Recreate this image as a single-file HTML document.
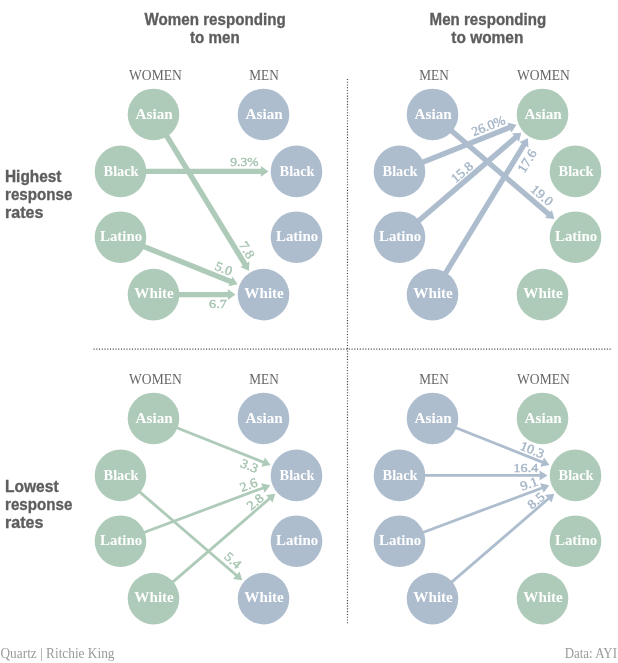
<!DOCTYPE html>
<html><head><meta charset="utf-8"><style>
html,body{margin:0;padding:0;background:#fff;width:618px;height:663px;overflow:hidden}
svg{display:block;will-change:transform}
.tt{font-family:"Liberation Sans",sans-serif;font-weight:bold;font-size:15px;fill:#5d5d5d;stroke:#5d5d5d;stroke-width:0.3px}
.rl{font-family:"Liberation Sans",sans-serif;font-weight:bold;font-size:15px;fill:#5d5d5d;stroke:#5d5d5d;stroke-width:0.3px}
.ch{font-family:"Liberation Serif",serif;font-size:15px;fill:#666666}
.cl{font-family:"Liberation Serif",serif;font-weight:bold;font-size:15px;fill:#fff}
.vl{font-family:"Liberation Serif",serif;font-weight:normal;font-size:13px;stroke-width:0.4px;paint-order:stroke}
.ft{font-family:"Liberation Serif",serif;font-size:14px;fill:#9a9a9a}
</style></head><body>
<svg width="618" height="663" viewBox="0 0 618 663">
<defs><filter id="bl" x="-5%" y="-5%" width="110%" height="110%"><feGaussianBlur stdDeviation="0.35"/></filter></defs>
<g>
<rect x="0" y="0" width="618" height="663" fill="#fff"/>
<g filter="url(#bl)">
<line x1="93.5" y1="349.2" x2="612" y2="349.2" stroke="#4a4a4a" stroke-width="1.2" stroke-dasharray="1.1 1.645"/>
<line x1="347.5" y1="78.9" x2="347.5" y2="624.5" stroke="#4a4a4a" stroke-width="1.2" stroke-dasharray="1.1 1.672"/>
</g>
<text transform="translate(215.1,24.6) scale(1,1.08)" text-anchor="middle" class="tt" textLength="141.1" lengthAdjust="spacingAndGlyphs">Women responding</text>
<text transform="translate(214.9,42.6) scale(1,1.08)" text-anchor="middle" class="tt" textLength="49.7" lengthAdjust="spacingAndGlyphs">to men</text>
<text transform="translate(487.9,24.6) scale(1,1.08)" text-anchor="middle" class="tt" textLength="116.6" lengthAdjust="spacingAndGlyphs">Men responding</text>
<text transform="translate(487.3,42.6) scale(1,1.08)" text-anchor="middle" class="tt" textLength="72.1" lengthAdjust="spacingAndGlyphs">to women</text>
<text transform="translate(5,182.0) scale(1,1.08)" text-anchor="start" class="rl" textLength="56.5" lengthAdjust="spacingAndGlyphs">Highest</text>
<text transform="translate(5,199.6) scale(1,1.08)" text-anchor="start" class="rl" textLength="67.3" lengthAdjust="spacingAndGlyphs">response</text>
<text transform="translate(5,217.8) scale(1,1.08)" text-anchor="start" class="rl" textLength="38.4" lengthAdjust="spacingAndGlyphs">rates</text>
<text transform="translate(5,492.2) scale(1,1.08)" text-anchor="start" class="rl" textLength="53.6" lengthAdjust="spacingAndGlyphs">Lowest</text>
<text transform="translate(5,509.8) scale(1,1.08)" text-anchor="start" class="rl" textLength="67.3" lengthAdjust="spacingAndGlyphs">response</text>
<text transform="translate(5,527.6) scale(1,1.08)" text-anchor="start" class="rl" textLength="38.4" lengthAdjust="spacingAndGlyphs">rates</text>
<text x="155.40" y="80.0" text-anchor="middle" class="ch" textLength="52.7" lengthAdjust="spacingAndGlyphs">WOMEN</text>
<text x="264.00" y="80.0" text-anchor="middle" class="ch" textLength="29.4" lengthAdjust="spacingAndGlyphs">MEN</text>
<text x="434.00" y="80.0" text-anchor="middle" class="ch" textLength="29.4" lengthAdjust="spacingAndGlyphs">MEN</text>
<text x="543.40" y="80.0" text-anchor="middle" class="ch" textLength="52.7" lengthAdjust="spacingAndGlyphs">WOMEN</text>
<text x="155.40" y="384.0" text-anchor="middle" class="ch" textLength="52.7" lengthAdjust="spacingAndGlyphs">WOMEN</text>
<text x="264.00" y="384.0" text-anchor="middle" class="ch" textLength="29.4" lengthAdjust="spacingAndGlyphs">MEN</text>
<text x="434.00" y="384.0" text-anchor="middle" class="ch" textLength="29.4" lengthAdjust="spacingAndGlyphs">MEN</text>
<text x="543.40" y="384.0" text-anchor="middle" class="ch" textLength="52.7" lengthAdjust="spacingAndGlyphs">WOMEN</text>
<line x1="153.50" y1="114.45" x2="245.36" y2="264.90" stroke="#aecab8" stroke-width="5.4"/>
<polygon points="248.91,270.70 240.42,266.98 249.47,261.45" fill="#aecab8"/>
<line x1="120.50" y1="171.40" x2="261.70" y2="171.40" stroke="#aecab8" stroke-width="5.4"/>
<polygon points="268.50,171.40 260.90,176.70 260.90,166.10" fill="#aecab8"/>
<line x1="120.50" y1="237.20" x2="231.20" y2="281.64" stroke="#aecab8" stroke-width="5.4"/>
<polygon points="237.52,284.17 228.49,286.26 232.44,276.42" fill="#aecab8"/>
<line x1="153.50" y1="294.60" x2="228.70" y2="294.60" stroke="#aecab8" stroke-width="5.4"/>
<polygon points="235.50,294.60 227.90,299.90 227.90,289.30" fill="#aecab8"/>
<line x1="399.50" y1="171.40" x2="510.17" y2="127.33" stroke="#adbdce" stroke-width="5.4"/>
<polygon points="516.49,124.81 511.39,132.55 507.47,122.70" fill="#adbdce"/>
<line x1="432.50" y1="114.45" x2="549.09" y2="214.53" stroke="#adbdce" stroke-width="5.4"/>
<polygon points="554.25,218.96 545.04,218.03 551.94,209.99" fill="#adbdce"/>
<line x1="399.50" y1="237.20" x2="516.09" y2="137.12" stroke="#adbdce" stroke-width="5.4"/>
<polygon points="521.25,132.69 518.94,141.66 512.04,133.62" fill="#adbdce"/>
<line x1="432.50" y1="294.60" x2="524.36" y2="144.15" stroke="#adbdce" stroke-width="5.4"/>
<polygon points="527.91,138.35 528.47,147.60 519.42,142.07" fill="#adbdce"/>
<line x1="153.50" y1="418.45" x2="263.89" y2="462.41" stroke="#aecab8" stroke-width="2.8"/>
<polygon points="270.49,465.04 261.30,466.76 265.00,457.47" fill="#aecab8"/>
<line x1="120.50" y1="541.20" x2="263.62" y2="487.69" stroke="#aecab8" stroke-width="2.8"/>
<polygon points="270.27,485.21 264.62,492.66 261.12,483.29" fill="#aecab8"/>
<line x1="153.50" y1="598.60" x2="269.91" y2="498.31" stroke="#aecab8" stroke-width="2.8"/>
<polygon points="275.29,493.68 272.57,502.62 266.04,495.04" fill="#aecab8"/>
<line x1="120.50" y1="475.40" x2="236.91" y2="575.69" stroke="#aecab8" stroke-width="2.8"/>
<polygon points="242.29,580.32 233.04,578.96 239.57,571.38" fill="#aecab8"/>
<line x1="432.50" y1="418.45" x2="542.89" y2="462.41" stroke="#adbdce" stroke-width="2.8"/>
<polygon points="549.49,465.04 540.30,466.76 544.00,457.47" fill="#adbdce"/>
<line x1="399.50" y1="475.40" x2="540.40" y2="475.40" stroke="#adbdce" stroke-width="2.8"/>
<polygon points="547.50,475.40 539.60,480.40 539.60,470.40" fill="#adbdce"/>
<line x1="399.50" y1="541.20" x2="542.62" y2="487.69" stroke="#adbdce" stroke-width="2.8"/>
<polygon points="549.27,485.21 543.62,492.66 540.12,483.29" fill="#adbdce"/>
<line x1="432.50" y1="598.60" x2="548.91" y2="498.31" stroke="#adbdce" stroke-width="2.8"/>
<polygon points="554.29,493.68 551.57,502.62 545.04,495.04" fill="#adbdce"/>
<circle cx="153.50" cy="114.45" r="25.8" fill="#aecab8"/>
<text x="154.10" y="118.85" class="cl" text-anchor="middle" textLength="37.2" lengthAdjust="spacingAndGlyphs">Asian</text>
<circle cx="263.50" cy="114.45" r="25.8" fill="#adbdce"/>
<text x="264.10" y="118.85" class="cl" text-anchor="middle" textLength="37.2" lengthAdjust="spacingAndGlyphs">Asian</text>
<circle cx="120.50" cy="171.40" r="25.8" fill="#aecab8"/>
<text x="121.10" y="175.75" class="cl" text-anchor="middle" textLength="35.0" lengthAdjust="spacingAndGlyphs">Black</text>
<circle cx="296.50" cy="171.40" r="25.8" fill="#adbdce"/>
<text x="297.10" y="175.75" class="cl" text-anchor="middle" textLength="35.0" lengthAdjust="spacingAndGlyphs">Black</text>
<circle cx="120.50" cy="237.20" r="25.8" fill="#aecab8"/>
<text x="121.10" y="240.70" class="cl" text-anchor="middle" textLength="42.2" lengthAdjust="spacingAndGlyphs">Latino</text>
<circle cx="296.50" cy="237.20" r="25.8" fill="#adbdce"/>
<text x="297.10" y="240.70" class="cl" text-anchor="middle" textLength="42.2" lengthAdjust="spacingAndGlyphs">Latino</text>
<circle cx="153.50" cy="294.60" r="25.8" fill="#aecab8"/>
<text x="154.10" y="298.00" class="cl" text-anchor="middle" textLength="39.5" lengthAdjust="spacingAndGlyphs">White</text>
<circle cx="263.50" cy="294.60" r="25.8" fill="#adbdce"/>
<text x="264.10" y="298.00" class="cl" text-anchor="middle" textLength="39.5" lengthAdjust="spacingAndGlyphs">White</text>
<circle cx="432.50" cy="114.45" r="25.8" fill="#adbdce"/>
<text x="433.10" y="118.85" class="cl" text-anchor="middle" textLength="37.2" lengthAdjust="spacingAndGlyphs">Asian</text>
<circle cx="542.50" cy="114.45" r="25.8" fill="#aecab8"/>
<text x="543.10" y="118.85" class="cl" text-anchor="middle" textLength="37.2" lengthAdjust="spacingAndGlyphs">Asian</text>
<circle cx="399.50" cy="171.40" r="25.8" fill="#adbdce"/>
<text x="400.10" y="175.75" class="cl" text-anchor="middle" textLength="35.0" lengthAdjust="spacingAndGlyphs">Black</text>
<circle cx="575.50" cy="171.40" r="25.8" fill="#aecab8"/>
<text x="576.10" y="175.75" class="cl" text-anchor="middle" textLength="35.0" lengthAdjust="spacingAndGlyphs">Black</text>
<circle cx="399.50" cy="237.20" r="25.8" fill="#adbdce"/>
<text x="400.10" y="240.70" class="cl" text-anchor="middle" textLength="42.2" lengthAdjust="spacingAndGlyphs">Latino</text>
<circle cx="575.50" cy="237.20" r="25.8" fill="#aecab8"/>
<text x="576.10" y="240.70" class="cl" text-anchor="middle" textLength="42.2" lengthAdjust="spacingAndGlyphs">Latino</text>
<circle cx="432.50" cy="294.60" r="25.8" fill="#adbdce"/>
<text x="433.10" y="298.00" class="cl" text-anchor="middle" textLength="39.5" lengthAdjust="spacingAndGlyphs">White</text>
<circle cx="542.50" cy="294.60" r="25.8" fill="#aecab8"/>
<text x="543.10" y="298.00" class="cl" text-anchor="middle" textLength="39.5" lengthAdjust="spacingAndGlyphs">White</text>
<circle cx="153.50" cy="418.45" r="25.8" fill="#aecab8"/>
<text x="154.10" y="422.85" class="cl" text-anchor="middle" textLength="37.2" lengthAdjust="spacingAndGlyphs">Asian</text>
<circle cx="263.50" cy="418.45" r="25.8" fill="#adbdce"/>
<text x="264.10" y="422.85" class="cl" text-anchor="middle" textLength="37.2" lengthAdjust="spacingAndGlyphs">Asian</text>
<circle cx="120.50" cy="475.40" r="25.8" fill="#aecab8"/>
<text x="121.10" y="479.75" class="cl" text-anchor="middle" textLength="35.0" lengthAdjust="spacingAndGlyphs">Black</text>
<circle cx="296.50" cy="475.40" r="25.8" fill="#adbdce"/>
<text x="297.10" y="479.75" class="cl" text-anchor="middle" textLength="35.0" lengthAdjust="spacingAndGlyphs">Black</text>
<circle cx="120.50" cy="541.20" r="25.8" fill="#aecab8"/>
<text x="121.10" y="544.70" class="cl" text-anchor="middle" textLength="42.2" lengthAdjust="spacingAndGlyphs">Latino</text>
<circle cx="296.50" cy="541.20" r="25.8" fill="#adbdce"/>
<text x="297.10" y="544.70" class="cl" text-anchor="middle" textLength="42.2" lengthAdjust="spacingAndGlyphs">Latino</text>
<circle cx="153.50" cy="598.60" r="25.8" fill="#aecab8"/>
<text x="154.10" y="602.00" class="cl" text-anchor="middle" textLength="39.5" lengthAdjust="spacingAndGlyphs">White</text>
<circle cx="263.50" cy="598.60" r="25.8" fill="#adbdce"/>
<text x="264.10" y="602.00" class="cl" text-anchor="middle" textLength="39.5" lengthAdjust="spacingAndGlyphs">White</text>
<circle cx="432.50" cy="418.45" r="25.8" fill="#adbdce"/>
<text x="433.10" y="422.85" class="cl" text-anchor="middle" textLength="37.2" lengthAdjust="spacingAndGlyphs">Asian</text>
<circle cx="542.50" cy="418.45" r="25.8" fill="#aecab8"/>
<text x="543.10" y="422.85" class="cl" text-anchor="middle" textLength="37.2" lengthAdjust="spacingAndGlyphs">Asian</text>
<circle cx="399.50" cy="475.40" r="25.8" fill="#adbdce"/>
<text x="400.10" y="479.75" class="cl" text-anchor="middle" textLength="35.0" lengthAdjust="spacingAndGlyphs">Black</text>
<circle cx="575.50" cy="475.40" r="25.8" fill="#aecab8"/>
<text x="576.10" y="479.75" class="cl" text-anchor="middle" textLength="35.0" lengthAdjust="spacingAndGlyphs">Black</text>
<circle cx="399.50" cy="541.20" r="25.8" fill="#adbdce"/>
<text x="400.10" y="544.70" class="cl" text-anchor="middle" textLength="42.2" lengthAdjust="spacingAndGlyphs">Latino</text>
<circle cx="575.50" cy="541.20" r="25.8" fill="#aecab8"/>
<text x="576.10" y="544.70" class="cl" text-anchor="middle" textLength="42.2" lengthAdjust="spacingAndGlyphs">Latino</text>
<circle cx="432.50" cy="598.60" r="25.8" fill="#adbdce"/>
<text x="433.10" y="602.00" class="cl" text-anchor="middle" textLength="39.5" lengthAdjust="spacingAndGlyphs">White</text>
<circle cx="542.50" cy="598.60" r="25.8" fill="#aecab8"/>
<text x="543.10" y="602.00" class="cl" text-anchor="middle" textLength="39.5" lengthAdjust="spacingAndGlyphs">White</text>
<text transform="translate(244.40,161.80) rotate(0.00)" x="0" y="4.35" text-anchor="middle" class="vl" fill="#a6c4b0" stroke="#a6c4b0" textLength="28.16" lengthAdjust="spacingAndGlyphs">9.3%</text>
<text transform="translate(247.00,250.00) rotate(58.59)" x="0" y="4.35" text-anchor="middle" class="vl" fill="#a6c4b0" stroke="#a6c4b0" textLength="17.63" lengthAdjust="spacingAndGlyphs">7.8</text>
<text transform="translate(223.70,268.50) rotate(21.87)" x="0" y="4.35" text-anchor="middle" class="vl" fill="#a6c4b0" stroke="#a6c4b0" textLength="17.63" lengthAdjust="spacingAndGlyphs">5.0</text>
<text transform="translate(217.90,303.60) rotate(0.00)" x="0" y="4.35" text-anchor="middle" class="vl" fill="#a6c4b0" stroke="#a6c4b0" textLength="17.63" lengthAdjust="spacingAndGlyphs">6.7</text>
<text transform="translate(488.30,125.70) rotate(-21.72)" x="0" y="4.35" text-anchor="middle" class="vl" fill="#a5b5c7" stroke="#a5b5c7" textLength="34.92" lengthAdjust="spacingAndGlyphs">26.0%</text>
<text transform="translate(542.00,195.20) rotate(40.64)" x="0" y="4.35" text-anchor="middle" class="vl" fill="#a5b5c7" stroke="#a5b5c7" textLength="24.68" lengthAdjust="spacingAndGlyphs">19.0</text>
<text transform="translate(462.00,172.20) rotate(-40.64)" x="0" y="4.35" text-anchor="middle" class="vl" fill="#a5b5c7" stroke="#a5b5c7" textLength="24.68" lengthAdjust="spacingAndGlyphs">15.8</text>
<text transform="translate(527.00,161.00) rotate(-58.59)" x="0" y="4.35" text-anchor="middle" class="vl" fill="#a5b5c7" stroke="#a5b5c7" textLength="24.68" lengthAdjust="spacingAndGlyphs">17.6</text>
<text transform="translate(249.40,465.70) rotate(21.72)" x="0" y="4.35" text-anchor="middle" class="vl" fill="#a6c4b0" stroke="#a6c4b0" textLength="17.63" lengthAdjust="spacingAndGlyphs">3.3</text>
<text transform="translate(248.60,484.90) rotate(-20.50)" x="0" y="4.35" text-anchor="middle" class="vl" fill="#a6c4b0" stroke="#a6c4b0" textLength="17.63" lengthAdjust="spacingAndGlyphs">2.6</text>
<text transform="translate(255.00,501.80) rotate(-40.75)" x="0" y="4.35" text-anchor="middle" class="vl" fill="#a6c4b0" stroke="#a6c4b0" textLength="17.63" lengthAdjust="spacingAndGlyphs">2.8</text>
<text transform="translate(232.90,560.30) rotate(40.75)" x="0" y="4.35" text-anchor="middle" class="vl" fill="#a6c4b0" stroke="#a6c4b0" textLength="17.63" lengthAdjust="spacingAndGlyphs">5.4</text>
<text transform="translate(532.30,449.70) rotate(21.72)" x="0" y="4.35" text-anchor="middle" class="vl" fill="#a5b5c7" stroke="#a5b5c7" textLength="24.68" lengthAdjust="spacingAndGlyphs">10.3</text>
<text transform="translate(525.85,467.70) rotate(0.00)" x="0" y="4.35" text-anchor="middle" class="vl" fill="#a5b5c7" stroke="#a5b5c7" textLength="24.68" lengthAdjust="spacingAndGlyphs">16.4</text>
<text transform="translate(528.95,483.70) rotate(-20.50)" x="0" y="4.35" text-anchor="middle" class="vl" fill="#a5b5c7" stroke="#a5b5c7" textLength="17.63" lengthAdjust="spacingAndGlyphs">9.1</text>
<text transform="translate(535.95,500.65) rotate(-40.75)" x="0" y="4.35" text-anchor="middle" class="vl" fill="#a5b5c7" stroke="#a5b5c7" textLength="17.63" lengthAdjust="spacingAndGlyphs">8.5</text>
<text x="0.5" y="657.8" class="ft" textLength="114" lengthAdjust="spacingAndGlyphs">Quartz | Ritchie King</text>
<text x="617" y="657.8" class="ft" text-anchor="end" textLength="52.3" lengthAdjust="spacingAndGlyphs">Data: AYI</text>
</g>
</svg>
</body></html>
